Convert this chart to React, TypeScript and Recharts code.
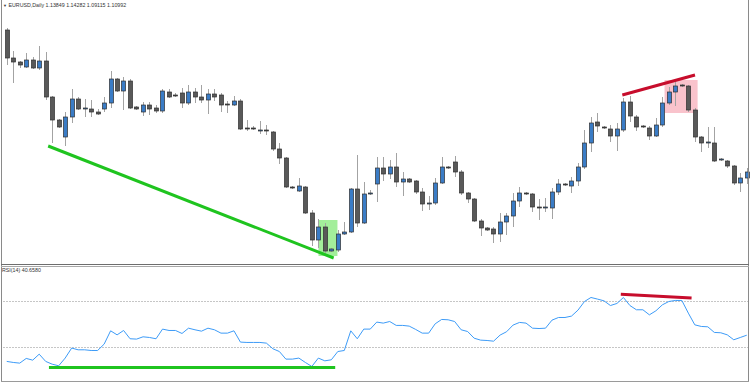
import React from "react";
import {
  ComposedChart,
  Bar,
  Line,
  XAxis,
  YAxis,
  ReferenceLine,
  ReferenceArea,
} from "recharts";

const symbolTitle = "EURUSD,Daily";
const titleQuote = "1.13849 1.14282 1.09115 1.10992";
const rsiTitle = "RSI(14) 40.6580";

const opens = [
  1.1850, 1.1710, 1.1690, 1.1665, 1.1700, 1.1660, 1.1695, 1.1515, 1.1400, 1.1315,
  1.1415, 1.1505, 1.1455, 1.1455, 1.1440, 1.1455, 1.1485, 1.1605, 1.1545, 1.1595,
  1.1465, 1.1440, 1.1475, 1.1460, 1.1445, 1.1540, 1.1525, 1.1535, 1.1485, 1.1540,
  1.1515, 1.1500, 1.1530, 1.1525, 1.1480, 1.1475, 1.1495, 1.1360, 1.1360, 1.1345,
  1.1350, 1.1340, 1.1255, 1.1210, 1.1065, 1.1045, 1.1065, 1.0935, 1.0800, 1.0865,
  1.0745, 1.0750, 1.0830, 1.0840, 1.1055, 1.0885, 1.1030, 1.1080, 1.1160, 1.1130,
  1.1165, 1.1090, 1.1105, 1.1095, 1.1040, 1.0980, 1.0985, 1.1085, 1.1165, 1.1190,
  1.1140, 1.1035, 1.1005, 1.0895, 1.0860, 1.0855, 1.0830, 1.0890, 1.0920, 1.0995,
  1.1035, 1.1030, 1.0965, 1.0960, 1.0960, 1.1040, 1.1080, 1.1070, 1.1095, 1.1165,
  1.1285, 1.1390, 1.1365, 1.1355, 1.1320, 1.1350, 1.1490, 1.1415, 1.1370, 1.1360,
  1.1320, 1.1375, 1.1485, 1.1540, 1.1575, 1.1570, 1.1450, 1.1315, 1.1285, 1.1285,
  1.1200, 1.1195, 1.1170, 1.1085, 1.1110,
];

const highs = [
  1.1860, 1.1745, 1.1695, 1.1735, 1.1715, 1.1770, 1.1740, 1.1520, 1.1405, 1.1440,
  1.1555, 1.1515, 1.1505, 1.1500, 1.1455, 1.1515, 1.1645, 1.1610, 1.1615, 1.1605,
  1.1470, 1.1490, 1.1490, 1.1475, 1.1555, 1.1555, 1.1535, 1.1560, 1.1575, 1.1560,
  1.1575, 1.1555, 1.1555, 1.1535, 1.1495, 1.1520, 1.1505, 1.1400, 1.1370, 1.1395,
  1.1375, 1.1345, 1.1285, 1.1215, 1.1070, 1.1110, 1.1070, 1.0950, 1.0905, 1.0885,
  1.0760, 1.0850, 1.0890, 1.1060, 1.1225, 1.1090, 1.1050, 1.1215, 1.1215, 1.1200,
  1.1235, 1.1140, 1.1110, 1.1100, 1.1060, 1.1020, 1.1110, 1.1215, 1.1170, 1.1220,
  1.1150, 1.1040, 1.1010, 1.0905, 1.0865, 1.0865, 1.0935, 1.0935, 1.1035, 1.1065,
  1.1040, 1.1035, 1.1005, 1.1010, 1.1060, 1.1105, 1.1085, 1.1115, 1.1185, 1.1350,
  1.1415, 1.1435, 1.1370, 1.1375, 1.1385, 1.1510, 1.1520, 1.1425, 1.1375, 1.1370,
  1.1410, 1.1515, 1.1565, 1.1590, 1.1580, 1.1575, 1.1460, 1.1320, 1.1365, 1.1365,
  1.1210, 1.1200, 1.1175, 1.1135, 1.1160,
];

const lows = [
  1.1675, 1.1585, 1.1660, 1.1660, 1.1655, 1.1650, 1.1500, 1.1285, 1.1360, 1.1270,
  1.1385, 1.1450, 1.1415, 1.1415, 1.1425, 1.1440, 1.1460, 1.1540, 1.1450, 1.1455,
  1.1450, 1.1420, 1.1425, 1.1435, 1.1435, 1.1510, 1.1515, 1.1460, 1.1475, 1.1485,
  1.1485, 1.1430, 1.1495, 1.1440, 1.1435, 1.1470, 1.1350, 1.1345, 1.1350, 1.1330,
  1.1325, 1.1245, 1.1180, 1.1060, 1.1055, 1.1040, 1.0930, 1.0770, 1.0760, 1.0735,
  1.0740, 1.0740, 1.0825, 1.0835, 1.0865, 1.0880, 1.1025, 1.0990, 1.1095, 1.1105,
  1.1065, 1.1020, 1.1085, 1.1030, 1.0945, 1.0950, 1.0975, 1.1080, 1.1155, 1.1115,
  1.1025, 1.0985, 1.0890, 1.0820, 1.0845, 1.0785, 1.0790, 1.0825, 1.0865, 1.0965,
  1.1025, 1.0940, 1.0900, 1.0940, 1.0905, 1.1025, 1.1070, 1.1035, 1.1070, 1.1155,
  1.1240, 1.1340, 1.1355, 1.1290, 1.1245, 1.1340, 1.1390, 1.1345, 1.1360, 1.1300,
  1.1315, 1.1365, 1.1475, 1.1470, 1.1565, 1.1440, 1.1290, 1.1240, 1.1260, 1.1190,
  1.1195, 1.1160, 1.1075, 1.1040, 1.1080,
];

const closes = [
  1.1710, 1.1690, 1.1675, 1.1700, 1.1660, 1.1695, 1.1515, 1.1400, 1.1365, 1.1415,
  1.1505, 1.1455, 1.1460, 1.1440, 1.1430, 1.1485, 1.1605, 1.1545, 1.1595, 1.1460,
  1.1455, 1.1475, 1.1455, 1.1445, 1.1545, 1.1515, 1.1520, 1.1485, 1.1540, 1.1515,
  1.1500, 1.1530, 1.1515, 1.1475, 1.1475, 1.1495, 1.1355, 1.1355, 1.1355, 1.1350,
  1.1345, 1.1255, 1.1210, 1.1065, 1.1060, 1.1070, 1.0935, 1.0800, 1.0865, 1.0745,
  1.0755, 1.0830, 1.0840, 1.1055, 1.0885, 1.1030, 1.1035, 1.1160, 1.1130, 1.1165,
  1.1090, 1.1105, 1.1090, 1.1040, 1.0980, 1.0985, 1.1085, 1.1165, 1.1160, 1.1140,
  1.1035, 1.1005, 1.0895, 1.0860, 1.0850, 1.0830, 1.0890, 1.0920, 1.0995, 1.1035,
  1.1030, 1.0965, 1.0960, 1.0965, 1.1040, 1.1080, 1.1075, 1.1095, 1.1165, 1.1285,
  1.1385, 1.1370, 1.1360, 1.1320, 1.1355, 1.1490, 1.1420, 1.1365, 1.1365, 1.1320,
  1.1375, 1.1485, 1.1540, 1.1570, 1.1570, 1.1450, 1.1315, 1.1285, 1.1290, 1.1195,
  1.1205, 1.1170, 1.1085, 1.1110, 1.1140,
];

const rsiValues = [
  17.9, 17.0, 16.4, 20.5, 19.0, 24.2, 17.9, 15.5, 14.1, 20.8,
  29.5, 28.0, 28.0, 27.4, 27.4, 32.9, 44.5, 41.0, 44.8, 37.6,
  37.3, 39.3, 38.7, 37.6, 46.0, 44.8, 44.8, 42.2, 46.8, 45.4,
  44.2, 46.8, 45.4, 42.5, 42.5, 44.5, 34.7, 34.4, 34.4, 34.4,
  33.8, 28.9, 26.5, 19.9, 19.9, 20.8, 17.0, 13.5, 20.8, 18.4,
  19.3, 26.5, 27.4, 44.5, 37.6, 46.0, 46.0, 52.1, 51.2, 52.6,
  49.2, 49.2, 48.6, 45.7, 42.5, 42.5, 50.6, 54.4, 54.1, 52.6,
  45.4, 43.9, 38.1, 36.4, 36.1, 35.5, 40.8, 43.7, 49.5, 51.8,
  51.2, 46.8, 46.5, 46.8, 53.8, 56.1, 56.1, 57.3, 62.5, 70.0,
  73.5, 72.1, 70.6, 66.5, 68.3, 73.5, 66.5, 62.8, 62.8, 58.4,
  61.9, 67.1, 70.0, 70.9, 70.9, 59.9, 49.7, 48.3, 48.0, 43.1,
  42.8, 41.0, 36.7, 38.7, 40.7,
];

const candles = opens.map((o, i) => ({
  i,
  o,
  h: highs[i],
  l: lows[i],
  c: closes[i],
  range: [lows[i], highs[i]],
}));

const rsiRows = rsiValues.map((rsi, i) => ({ i, rsi }));

const Candle = (props: any) => {
  const { x, y, width, height, payload } = props;
  const { o, h, l, c } = payload;
  const top = Math.min(y, y + height);
  const span = Math.abs(height);
  const k = span / (h - l);
  const cx = Math.round(x + width / 2) + 0.5;
  const yo = top + (h - o) * k;
  const yc = top + (h - c) * k;
  const bodyTop = Math.min(yo, yc);
  const bodyH = Math.max(Math.abs(yo - yc), 1);
  const bull = c >= o;
  return (
    <g>
      <line x1={cx} x2={cx} y1={top} y2={top + span} stroke="#a3a3a3" strokeWidth={1} />
      <rect
        x={cx - 2}
        y={bodyTop}
        width={4}
        height={bodyH}
        fill={bull ? "#3a7cc6" : "#595959"}
        stroke="#2e2e2e"
        strokeWidth={0.7}
      />
    </g>
  );
};

const margin = { top: 0, right: 0, bottom: 0, left: 3.5 };
const textStyle: React.CSSProperties = {
  position: "absolute",
  fontFamily: "'Liberation Sans', Arial, sans-serif",
  fontSize: 5.3,
  color: "#333",
  whiteSpace: "pre",
  lineHeight: 1,
};

export default function App() {
  return (
    <div style={{ position: "absolute", left: 0, top: 0, width: 750, height: 383, background: "#fff", overflow: "hidden" }}>
      <div style={{ position: "absolute", left: 0, top: 0 }}>
        <ComposedChart width={750} height={263} data={candles} margin={margin}>
          <XAxis xAxisId="c" dataKey="i" type="category" hide />
          <XAxis xAxisId="n" type="number" domain={[-0.5, 114.5]} allowDataOverflow hide />
          <YAxis domain={[1.0685, 1.2]} allowDataOverflow hide />
          <ReferenceArea xAxisId="n" x1={48.1} x2={51.0} y1={1.072} y2={1.09} fill="#a3ee9b" fillOpacity={1} stroke="none" />
          <ReferenceArea xAxisId="n" x1={100.95} x2={106.0} y1={1.1435} y2={1.16} fill="#f9c3cc" fillOpacity={1} stroke="none" />
          <Bar xAxisId="c" dataKey="range" shape={<Candle />} isAnimationActive={false} />
          <ReferenceLine
            xAxisId="n"
            segment={[{ x: 6.82, y: 1.127 }, { x: 50.42, y: 1.071 }]}
            stroke="#1fc41f"
            strokeWidth={3}
          />
          <ReferenceLine
            xAxisId="n"
            segment={[{ x: 94.5, y: 1.1525 }, { x: 105.6, y: 1.1625 }]}
            stroke="#c70d2c"
            strokeWidth={3}
          />
        </ComposedChart>
      </div>
      <div style={{ position: "absolute", left: 0, top: 267 }}>
        <ComposedChart width={750} height={115} data={rsiRows} margin={margin}>
          <XAxis dataKey="i" type="number" domain={[-0.5, 114.5]} allowDataOverflow hide />
          <YAxis domain={[0, 100]} allowDataOverflow hide />
          <ReferenceLine y={70} stroke="#8c8c8c" strokeDasharray="1 2" />
          <ReferenceLine y={30} stroke="#8c8c8c" strokeDasharray="1 2" />
          <Line dataKey="rsi" type="linear" stroke="#3d9bf7" strokeWidth={1} dot={false} isAnimationActive={false} />
          <ReferenceLine
            segment={[{ x: 6.5, y: 12.6 }, { x: 50.6, y: 12.6 }]}
            stroke="#1fc41f"
            strokeWidth={3}
          />
          <ReferenceLine
            segment={[{ x: 94.6, y: 76.4 }, { x: 105.5, y: 73.0 }]}
            stroke="#c70d2c"
            strokeWidth={3}
          />
        </ComposedChart>
      </div>
      {/* window frame */}
      <div style={{ position: "absolute", left: 1, top: 0, width: 1, height: 382, background: "#8a8a8a" }} />
      <div style={{ position: "absolute", left: 748, top: 0, width: 1, height: 382, background: "#8a8a8a" }} />
      <div style={{ position: "absolute", left: 1, top: 264, width: 748, height: 1, background: "#6e6e6e" }} />
      <div style={{ position: "absolute", left: 1, top: 266, width: 748, height: 1, background: "#a8a8a8" }} />
      <div style={{ position: "absolute", left: 1, top: 381, width: 748, height: 1, background: "#9a9a9a" }} />
      <div style={{ ...textStyle, left: 3, top: 3 }}>
        <span style={{ fontSize: 4 }}>▼</span> {symbolTitle} {titleQuote}
      </div>
      <div style={{ ...textStyle, left: 2, top: 268 }}>{rsiTitle}</div>
    </div>
  );
}
